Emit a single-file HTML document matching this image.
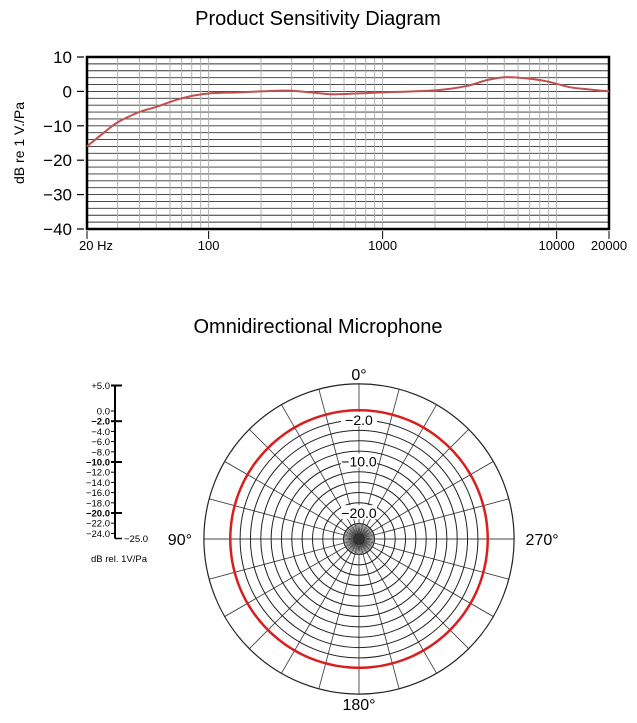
<!DOCTYPE html>
<html><head><meta charset="utf-8"><style>
body{margin:0;background:#fff;width:637px;height:723px;overflow:hidden}
svg{display:block;font-family:"Liberation Sans",Arial,sans-serif}
</style></head><body>
<svg width="637" height="723" viewBox="0 0 637 723">
<text x="318" y="25" text-anchor="middle" font-size="20">Product Sensitivity Diagram</text>
<g id="freq"></g>
<text x="318" y="333" text-anchor="middle" font-size="20">Omnidirectional Microphone</text>
<g id="scale"></g>
<g id="polar"></g>
</svg>
<script>
const freqs=[20,25,30,40,50,70,100,150,200,300,500,700,1000,2000,3000,4000,5000,6000,7000,9000,12000,15000,20000];
const gains=[-16,-12,-9,-6,-4.5,-2,-0.6,-0.3,0,0.2,-0.8,-0.6,-0.3,0.3,1.5,3.3,4.1,4.0,3.7,2.8,1.2,0.6,0];
const yTicks=[10,0,-10,-20,-30,-40];
const xTicks=[20,100,1000,10000,20000];
const xTickLabels=["20 Hz","100","1000","10000","20000"];
const scaleTicks=[5,0,-2,-4,-6,-8,-10,-12,-14,-16,-18,-20,-22,-24];
const scaleLabels=["+5.0","0.0","−2.0","−4.0","−6.0","−8.0","−10.0","−12.0","−14.0","−16.0","−18.0","−20.0","−22.0","−24.0"];
const ringDb=[-2,-4,-6,-8,-10,-12,-14,-16,-18,-20,-22,-24];
const polarAngles=[];for(let a=0;a<360;a+=5)polarAngles.push(a);
const polarDb=polarAngles.map(()=>-0.1);
const angleLabels=[["0°",0],["90°",90],["180°",180],["270°",270]];

const NS="http://www.w3.org/2000/svg";
function mk(p,t,at,txt){const e=document.createElementNS(NS,t);for(const k in at)e.setAttribute(k,at[k]);if(txt!=null)e.textContent=txt;p.appendChild(e);return e;}
function smooth(pts,closed){let d='M'+pts[0][0].toFixed(1)+','+pts[0][1].toFixed(1);const n=pts.length;
for(let i=0;i<(closed?n:n-1);i++){const p0=pts[closed?(i-1+n)%n:Math.max(i-1,0)],p1=pts[i],p2=pts[(i+1)%n],p3=pts[closed?(i+2)%n:Math.min(i+2,n-1)];
d+='C'+(p1[0]+(p2[0]-p0[0])/6).toFixed(1)+','+(p1[1]+(p2[1]-p0[1])/6).toFixed(1)+' '+(p2[0]-(p3[0]-p1[0])/6).toFixed(1)+','+(p2[1]-(p3[1]-p1[1])/6).toFixed(1)+' '+p2[0].toFixed(1)+','+p2[1].toFixed(1);}
return d+(closed?'Z':'');}
// frequency chart
const L=87,R=609,T=57,B=229;
const xs=f=>L+(Math.log10(f)-Math.log10(20))/(Math.log10(20000)-Math.log10(20))*(R-L);
const ys=d=>T+(10-d)/50*(B-T);
const g=document.getElementById('freq');
for(let d=10;d>=-40;d-=2){const l=mk(g,'line',{x1:L,x2:R,y1:ys(d),y2:ys(d),stroke:'#333','stroke-width':0.9});
}
for(let dec=10;dec<=10000;dec*=10)for(let m=1;m<10;m++){const f=dec*m;if(f<20||f>20000)continue;
const l=mk(g,'line',{x1:xs(f),x2:xs(f),y1:T,y2:B,stroke:'#aaa','stroke-width':0.9});
}
const fr=mk(g,'rect',{x:L,y:T,width:R-L,height:B-T,fill:'none',stroke:'#000','stroke-width':2.5});

yTicks.forEach(d=>{mk(g,'line',{x1:L-10,x2:L-3,y1:ys(d),y2:ys(d),stroke:'#000','stroke-width':1.2});
const t=mk(g,'text',{x:L-15,y:ys(d)+6,'text-anchor':'end','font-size':17},d<0?'−'+(-d):''+d);
});
xTicks.forEach((f,i)=>{mk(g,'line',{x1:xs(f),x2:xs(f),y1:B+2,y2:B+10,stroke:'#000','stroke-width':1});
const t=mk(g,'text',{x:xs(f)+(i==0?9:0),y:B+21,'text-anchor':'middle','font-size':13},xTickLabels[i]);
});
const yt=mk(g,'text',{x:0,y:0,transform:'translate(24,143) rotate(-90)','text-anchor':'middle','font-size':14},'dB re 1 V./Pa');

const cv=mk(g,'path',{d:smooth(freqs.map((f,i)=>[xs(f),ys(gains[i])]),false),fill:'none',stroke:'#c0504d','stroke-width':2,'stroke-linejoin':'round'});

// scale
const s=document.getElementById('scale');const sy=d=>411-d*5.1;
mk(s,'line',{x1:115,x2:115,y1:sy(5),y2:sy(-25),stroke:'#000','stroke-width':2});
mk(s,'line',{x1:115,x2:122,y1:sy(-25),y2:sy(-25),stroke:'#000','stroke-width':1.5});
scaleTicks.forEach((d,i)=>{const big=(d==5||d==-2||d==-10||d==-20);
mk(s,'line',{x1:111,x2:big?122:115,y1:sy(d),y2:sy(d),stroke:'#000','stroke-width':big?2:1});
const t=mk(s,'text',{x:110,y:sy(d)+3.5,'text-anchor':'end','font-size':9.5,'font-weight':big&&d!=5?'bold':'normal'},scaleLabels[i]);
});
mk(s,'text',{x:124,y:sy(-25)+3.5,'font-size':9.5},'−25.0');
const sl=mk(s,'text',{x:119,y:562,'text-anchor':'middle','font-size':9.5},'dB rel. 1V/Pa');

// polar
const p=document.getElementById('polar');const cx=359,cy=539;const rr=d=>(d+25)*5.17;
for(let a=0;a<360;a+=5){const big=a%15==0;const r1=big?rr(5):rr(-22);const rad=a*Math.PI/180;
mk(p,'line',{x1:cx,y1:cy,x2:cx+r1*Math.sin(rad),y2:cy-r1*Math.cos(rad),stroke:'#444','stroke-width':big?0.9:0.6});}
ringDb.forEach(d=>{const c=mk(p,'circle',{cx,cy,r:rr(d),fill:'none',stroke:'#222','stroke-width':1});
});
mk(p,'circle',{cx,cy,r:rr(5),fill:'none',stroke:'#222','stroke-width':1.2});
mk(p,'circle',{cx,cy,r:4,fill:'#333'});
[["−2.0",-2],["−10.0",-10],["−20.0",-20]].forEach(([t,d])=>{mk(p,'rect',{x:cx-18,y:cy-rr(d)-8,width:36,height:14,fill:'#fff'});
const e=mk(p,'text',{x:cx,y:cy-rr(d)+5,'text-anchor':'middle','font-size':14},t);
});
const pc=mk(p,'path',{d:smooth(polarAngles.map((a,i)=>{const rad=a*Math.PI/180,r=rr(polarDb[i]);return [cx+r*Math.sin(rad),cy-r*Math.cos(rad)];}),true),fill:'none',stroke:'#d81e1e','stroke-width':2.5});

angleLabels.forEach(([t,a])=>{const rad=a*Math.PI/180,r=rr(5)+(a%180==0?10:24);
const e=mk(p,'text',{x:cx,y:cy-r*Math.cos(rad)+6,'text-anchor':'middle','font-size':16},t);
if(a==90)e.setAttribute('x',cx-r);if(a==270)e.setAttribute('x',cx+r+4);
});
</script>
</body></html>
